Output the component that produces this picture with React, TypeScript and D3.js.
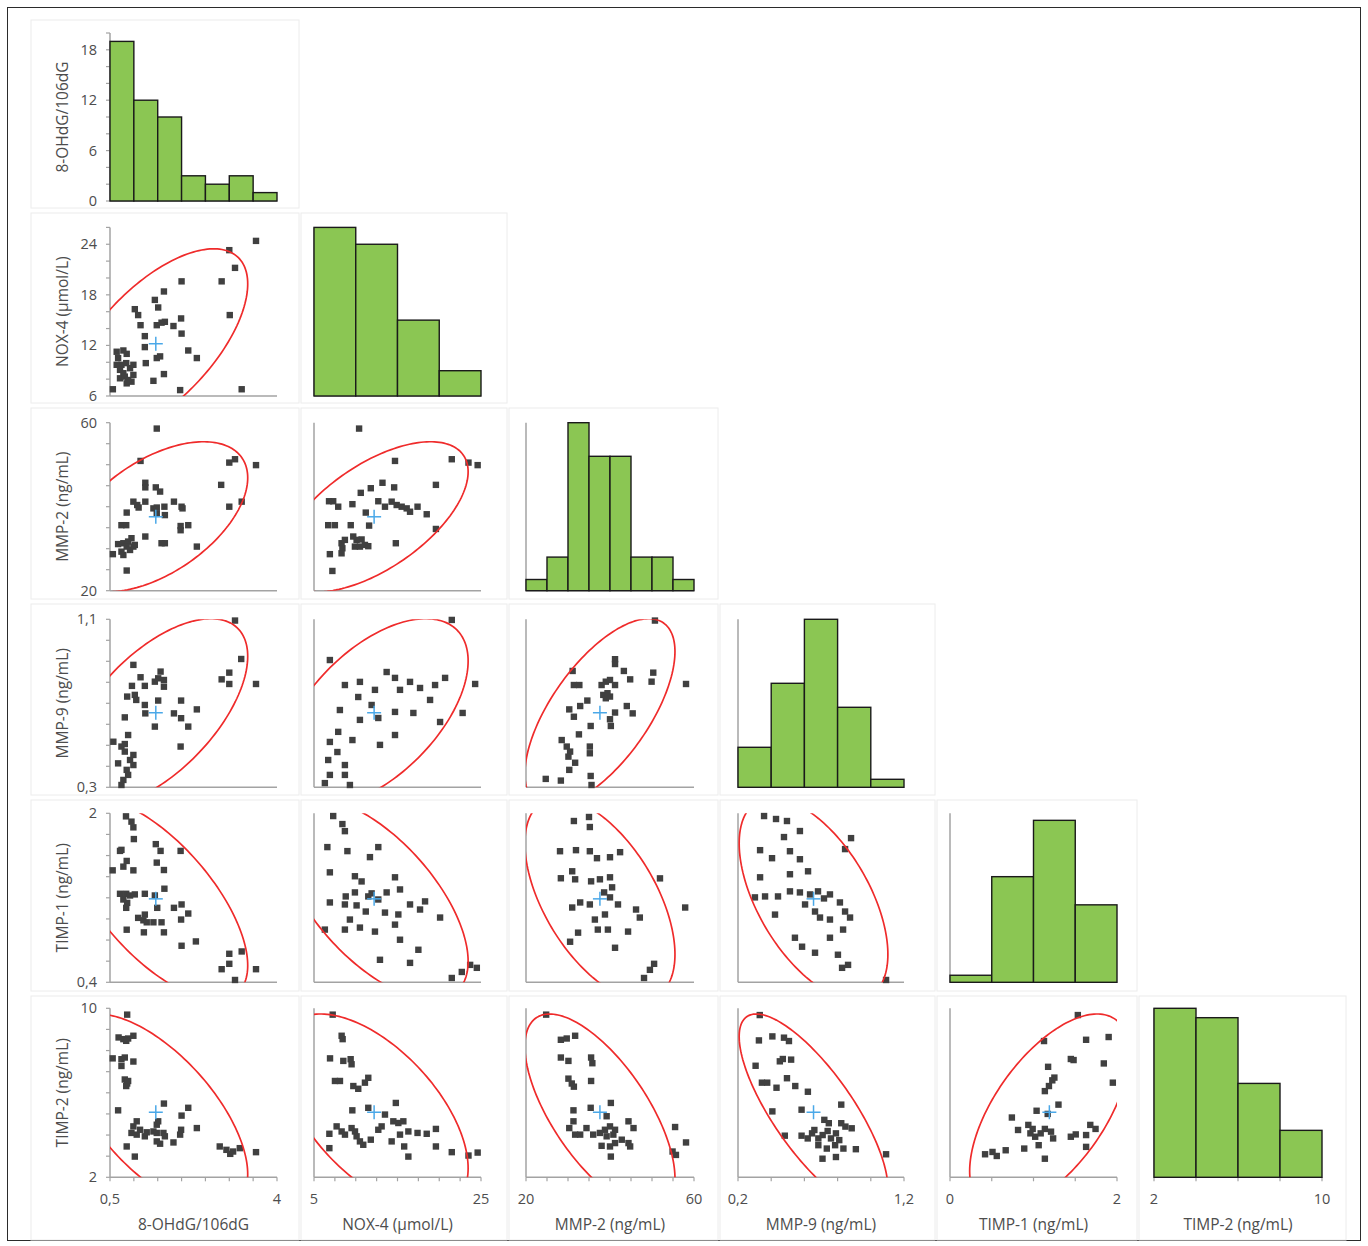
import * as d3 from 'd3';

const W = 1368;
const H = 1246;

// variables (rows top to bottom, columns left to right)
const variables = ['8-OHdG/106dG', 'NOX-4 (µmol/L)', 'MMP-2 (ng/mL)', 'MMP-9 (ng/mL)', 'TIMP-1 (ng/mL)', 'TIMP-2 (ng/mL)'];
const means = [1.46, 12.2, 37.6, 0.655, 1.19, 5.08];
const sds = [0.787, 4.6, 7.3, 0.183, 0.39, 1.9];

const xDomains = [[0.5, 4], [5, 25], [20, 60], [0.2, 1.2], [0, 2], [2, 10]];
const yDomains = [[0, 20], [6, 26], [20, 60], [0.3, 1.1], [0.4, 2], [2, 10]];
const xTickValues = [[0.5, 4], [5, 25], [20, 60], [0.2, 1.2], [0, 2], [2, 10]];
const yTickValues = [[0, 6, 12, 18], [6, 12, 18, 24], [20, 60], [0.3, 1.1], [0.4, 2], [2, 10]];
const xMinorStep = [0.5, 2.5, 5, 0.2, 0.5, 2];
const yMinorStep = [2, 2, 5, 0.1, 0.2, 1];

// histograms on the diagonal
const histEdges = [
  [0.5, 1, 1.5, 2, 2.5, 3, 3.5, 4],
  [5, 10, 15, 20, 25],
  [20, 25, 30, 35, 40, 45, 50, 55, 60],
  [0.2, 0.4, 0.6, 0.8, 1.0, 1.2],
  [0, 0.5, 1, 1.5, 2],
  [2, 4, 6, 8, 10],
];
const histCounts = [
  [19, 12, 10, 3, 2, 3, 1],
  [20, 18, 9, 3],
  [1, 3, 15, 12, 12, 3, 3, 1],
  [5, 13, 21, 10, 1],
  [1, 15, 23, 11],
  [18, 17, 10, 5],
];
const histMax = [20, 20, 15, 21, 24, 18];

// correlation used for the 95% ellipses, [row][col]
const corr: Record<string, number> = {
  '1-0': 0.63,
  '2-0': 0.52, '2-1': 0.6,
  '3-0': 0.6, '3-1': 0.55, '3-2': 0.65,
  '4-0': -0.66, '4-1': -0.62, '4-2': -0.55, '4-3': -0.55,
  '5-0': -0.63, '5-1': -0.57, '5-2': -0.67, '5-3': -0.77, '5-4': 0.6,
};

type P = [number, number];

const ohdgNox: P[] = [[0.56, 6.8], [3.56, 24.4], [3.0, 23.3], [3.12, 21.2], [2.84, 19.6], [3.01, 15.6], [3.26, 6.8], [2.0, 19.6], [1.63, 18.4], [1.44, 17.4], [1.51, 16.5], [1.02, 16.3], [1.09, 15.6], [1.99, 15.2], [1.14, 14.4], [1.48, 14.4], [1.58, 14.7], [1.65, 14.8], [1.83, 14.3], [2.0, 13.4], [1.23, 13.1], [1.23, 11.8], [2.14, 11.4], [2.32, 10.5], [1.48, 10.5], [1.55, 10.7], [1.25, 9.9], [1.63, 8.6], [1.41, 7.8], [1.97, 6.7], [0.64, 11.25], [0.78, 11.4], [0.85, 11.0], [0.67, 10.5], [0.74, 9.7], [0.64, 9.7], [0.84, 9.9], [0.99, 9.7], [0.71, 9.1], [0.92, 9.3], [0.78, 8.7], [0.99, 8.5], [0.71, 8.1], [0.85, 7.5], [0.95, 7.7], [0.81, 8.3], [0.88, 7.9]];

const ohdgMmp2: P[] = [[1.48, 58.6], [1.14, 50.9], [1.24, 45.7], [1.24, 44.6], [1.46, 44.6], [1.55, 43.6], [2.83, 45.2], [3.0, 50.5], [3.12, 51.3], [3.56, 49.9], [3.0, 40.0], [3.26, 41.2], [0.99, 41.2], [1.07, 40.4], [1.24, 41.2], [1.1, 39.8], [1.41, 39.6], [1.48, 39.8], [1.64, 40.0], [1.84, 41.2], [2.0, 40.0], [2.02, 39.6], [0.85, 38.6], [1.65, 38.0], [1.48, 38.4], [0.74, 35.6], [0.84, 35.6], [1.98, 35.4], [2.14, 35.6], [1.98, 34.4], [1.24, 32.9], [1.58, 31.3], [1.65, 31.3], [2.32, 30.5], [0.67, 31.1], [0.78, 31.3], [0.88, 31.7], [0.95, 32.5], [0.85, 30.5], [0.99, 30.5], [0.74, 29.3], [0.92, 29.7], [1.02, 30.9], [0.56, 28.7], [0.78, 28.5], [0.85, 24.8]];

const noxMmp2: P[] = [[10.4, 58.6], [14.7, 50.9], [21.5, 51.3], [23.5, 50.5], [24.6, 49.9], [19.6, 45.2], [13.2, 45.7], [11.8, 44.4], [14.6, 44.6], [10.6, 43.3], [6.8, 41.3], [7.3, 41.3], [7.9, 40.0], [9.6, 40.6], [12.7, 41.3], [13.5, 40.0], [14.3, 41.2], [14.9, 40.4], [15.5, 40.0], [16.1, 39.6], [16.5, 38.8], [17.4, 40.0], [11.2, 38.6], [18.5, 38.2], [19.6, 34.7], [6.7, 35.6], [7.5, 35.6], [9.4, 35.6], [11.6, 35.5], [14.8, 31.3], [6.9, 28.7], [7.2, 24.7], [8.3, 31.3], [8.7, 32.1], [9.7, 32.9], [10.1, 32.1], [10.7, 32.2], [11.1, 30.9], [11.5, 30.6], [8.4, 30.1], [8.3, 28.9], [9.9, 30.5], [10.5, 30.5]];

const ohdgMmp9: P[] = [[3.12, 1.094], [3.25, 0.911], [3.0, 0.846], [2.84, 0.814], [3.0, 0.792], [3.56, 0.792], [0.99, 0.883], [1.14, 0.824], [0.96, 0.783], [1.23, 0.783], [1.44, 0.803], [1.56, 0.851], [1.63, 0.811], [1.63, 0.779], [1.51, 0.819], [0.86, 0.732], [1.02, 0.74], [1.05, 0.716], [1.23, 0.692], [1.24, 0.652], [1.51, 0.713], [1.99, 0.713], [2.32, 0.671], [1.84, 0.652], [1.99, 0.629], [2.14, 0.589], [0.81, 0.633], [1.44, 0.589], [1.98, 0.494], [0.88, 0.549], [0.57, 0.517], [0.74, 0.494], [0.81, 0.47], [0.99, 0.454], [0.92, 0.43], [0.67, 0.414], [0.99, 0.406], [0.85, 0.383], [0.88, 0.359], [0.78, 0.335], [0.74, 0.311], [0.81, 0.506]];

const noxMmp9: P[] = [[21.5, 1.097], [6.9, 0.906], [8.7, 0.787], [10.5, 0.802], [12.3, 0.764], [13.7, 0.849], [14.7, 0.821], [15.3, 0.764], [16.5, 0.802], [17.7, 0.773], [19.5, 0.787], [20.7, 0.821], [18.9, 0.716], [24.3, 0.792], [22.8, 0.654], [20.1, 0.611], [16.9, 0.654], [14.7, 0.659], [11.9, 0.692], [12.7, 0.63], [10.3, 0.73], [8.1, 0.668], [10.5, 0.621], [12.9, 0.502], [14.7, 0.549], [6.9, 0.516], [7.8, 0.468], [6.7, 0.43], [8.7, 0.406], [6.9, 0.359], [6.3, 0.32], [9.3, 0.311], [8.7, 0.359], [7.9, 0.564], [9.6, 0.525]];

const mmp2Mmp9: P[] = [[50.7, 1.094], [41.2, 0.91], [41.2, 0.887], [43.3, 0.854], [44.8, 0.814], [50.3, 0.846], [49.9, 0.803], [58.1, 0.792], [31.1, 0.854], [31.4, 0.787], [32.7, 0.787], [38.0, 0.787], [39.0, 0.803], [40.0, 0.811], [41.2, 0.787], [38.4, 0.74], [39.0, 0.724], [40.0, 0.732], [39.4, 0.748], [34.6, 0.713], [32.9, 0.687], [30.3, 0.671], [31.4, 0.636], [44.0, 0.687], [45.4, 0.652], [41.2, 0.656], [40.0, 0.624], [40.2, 0.592], [35.4, 0.592], [32.6, 0.552], [28.5, 0.525], [29.7, 0.494], [30.5, 0.47], [30.1, 0.446], [31.7, 0.417], [30.3, 0.383], [35.2, 0.494], [35.2, 0.462], [24.7, 0.34], [28.3, 0.332], [35.4, 0.354], [35.6, 0.311]];

const ohdgTimp1: P[] = [[0.835, 1.971], [0.95, 1.921], [0.99, 1.867], [1.0, 1.756], [0.71, 1.644], [0.74, 1.654], [1.46, 1.708], [1.56, 1.644], [1.98, 1.644], [0.85, 1.549], [0.78, 1.495], [0.99, 1.46], [0.556, 1.46], [1.48, 1.533], [1.63, 1.463], [1.64, 1.286], [0.71, 1.238], [0.84, 1.238], [0.92, 1.222], [1.02, 1.232], [0.78, 1.184], [0.86, 1.152], [0.84, 1.105], [1.23, 1.238], [1.44, 1.222], [1.49, 1.105], [1.84, 1.105], [2.0, 1.137], [2.14, 1.051], [1.99, 0.994], [1.23, 1.041], [1.09, 1.01], [1.2, 0.987], [1.27, 0.968], [1.41, 0.968], [1.58, 0.968], [0.85, 0.898], [1.21, 0.873], [1.63, 0.873], [2.0, 0.746], [2.3, 0.787], [3.0, 0.67], [3.26, 0.692], [3.0, 0.575], [2.84, 0.524], [3.56, 0.524], [3.12, 0.422]];

const noxTimp1: P[] = [[7.3, 1.974], [8.4, 1.898], [8.7, 1.831], [6.6, 1.68], [9.0, 1.642], [11.7, 1.585], [12.7, 1.68], [14.7, 1.394], [6.9, 1.441], [9.9, 1.404], [10.7, 1.355], [8.8, 1.213], [9.9, 1.251], [11.5, 1.213], [11.9, 1.242], [12.7, 1.184], [13.7, 1.251], [15.3, 1.279], [6.9, 1.156], [8.7, 1.137], [10.1, 1.128], [11.2, 1.07], [13.5, 1.06], [15.1, 1.042], [16.5, 1.137], [17.7, 1.089], [18.3, 1.166], [20.1, 1.013], [9.3, 0.994], [10.5, 0.918], [14.7, 0.946], [6.3, 0.899], [8.7, 0.899], [12.3, 0.88], [15.3, 0.803], [17.5, 0.708], [23.7, 0.565], [24.5, 0.537], [22.7, 0.498], [21.5, 0.441], [12.9, 0.613], [16.5, 0.584]];

const mmp2Timp1: P[] = [[31.4, 1.927], [35.0, 1.965], [35.2, 1.87], [28.1, 1.641], [31.9, 1.651], [35.2, 1.641], [36.9, 1.575], [40.0, 1.584], [42.4, 1.632], [51.9, 1.384], [31.0, 1.451], [28.3, 1.385], [31.7, 1.375], [35.5, 1.356], [37.6, 1.375], [38.6, 1.251], [40.0, 1.204], [40.5, 1.299], [32.9, 1.156], [31.0, 1.108], [35.2, 1.137], [41.9, 1.137], [46.2, 1.089], [57.9, 1.108], [47.1, 1.013], [38.8, 1.042], [36.4, 0.994], [37.1, 0.899], [39.5, 0.899], [32.4, 0.87], [30.5, 0.784], [41.2, 0.727], [44.3, 0.88], [49.5, 0.518], [50.5, 0.575], [48.1, 0.441], [40.0, 1.394]];

const mmp9Timp1: P[] = [[0.357, 1.974], [0.429, 1.946], [0.495, 1.927], [0.477, 1.775], [0.573, 1.832], [0.333, 1.651], [0.405, 1.575], [0.513, 1.641], [0.573, 1.565], [0.881, 1.765], [0.845, 1.661], [0.333, 1.394], [0.513, 1.423], [0.622, 1.451], [0.302, 1.204], [0.363, 1.213], [0.441, 1.213], [0.513, 1.261], [0.573, 1.251], [0.634, 1.232], [0.682, 1.261], [0.718, 1.194], [0.754, 1.232], [0.814, 1.156], [0.604, 1.137], [0.664, 1.07], [0.694, 1.013], [0.754, 0.994], [0.845, 1.07], [0.875, 1.013], [0.833, 0.899], [0.754, 0.822], [0.543, 0.822], [0.586, 0.737], [0.664, 0.68], [0.802, 0.661], [0.827, 0.537], [0.863, 0.565], [1.092, 0.422], [0.423, 1.041]];

const ohdgTimp2: P[] = [[0.86, 9.7], [0.68, 8.62], [0.78, 8.54], [0.88, 8.57], [0.99, 8.7], [0.84, 8.46], [0.556, 7.63], [0.74, 7.59], [0.81, 7.67], [0.99, 7.48], [0.74, 7.27], [0.81, 6.63], [0.86, 6.44], [0.84, 6.32], [0.88, 6.56], [0.67, 5.17], [1.63, 5.49], [2.14, 5.29], [2.0, 4.92], [1.51, 4.65], [1.48, 4.49], [1.06, 4.65], [0.99, 4.41], [1.13, 4.25], [0.95, 4.1], [1.06, 4.02], [1.23, 3.94], [1.27, 4.13], [1.41, 4.17], [1.48, 4.1], [1.62, 4.1], [1.65, 3.94], [1.99, 4.25], [1.97, 4.02], [2.32, 4.33], [1.48, 3.7], [1.55, 3.59], [1.83, 3.65], [0.85, 3.46], [1.02, 2.98], [2.8, 3.46], [2.94, 3.3], [3.02, 3.11], [3.08, 3.22], [3.22, 3.38], [3.56, 3.19]];

const noxTimp2: P[] = [[7.24, 9.7], [8.31, 8.7], [8.43, 8.54], [6.92, 7.63], [8.51, 7.51], [9.39, 7.59], [9.5, 7.35], [7.51, 6.56], [8.11, 6.56], [9.71, 6.32], [10.3, 6.19], [11.1, 6.48], [11.5, 6.71], [9.59, 5.17], [11.5, 5.29], [13.5, 4.97], [14.8, 5.52], [14.5, 4.65], [15.1, 4.57], [15.7, 4.65], [6.84, 4.06], [7.71, 4.41], [8.31, 4.17], [8.71, 4.02], [9.5, 4.33], [9.91, 4.17], [10.1, 3.94], [10.5, 3.7], [10.9, 3.54], [11.8, 3.78], [12.7, 4.25], [13.1, 4.41], [14.3, 3.7], [15.3, 4.02], [16.3, 4.17], [17.4, 4.1], [18.5, 4.06], [19.6, 4.29], [6.84, 3.38], [15.8, 3.46], [16.3, 2.98], [19.6, 3.46], [21.5, 3.19], [23.5, 3.03], [24.6, 3.17]];

const mmp2Timp2: P[] = [[24.8, 9.7], [28.3, 8.51], [29.7, 8.57], [31.7, 8.7], [28.3, 7.67], [30.1, 7.51], [35.5, 7.67], [35.8, 7.4], [30.1, 6.67], [30.9, 6.44], [31.4, 6.29], [35.5, 6.56], [31.3, 5.17], [35.4, 5.29], [40.2, 5.52], [31.3, 4.65], [39.2, 4.89], [44.4, 4.65], [45.6, 4.33], [30.3, 4.33], [31.7, 4.02], [32.9, 4.02], [34.4, 4.33], [36.0, 4.02], [37.6, 4.1], [38.8, 4.25], [40.0, 4.41], [41.2, 4.25], [39.2, 3.94], [40.8, 4.02], [38.0, 3.49], [40.0, 3.46], [41.2, 3.62], [42.8, 3.78], [44.4, 3.62], [44.8, 3.46], [40.2, 2.98], [55.5, 4.38], [54.9, 3.22], [55.7, 3.06], [58.1, 3.65]];

const mmp9Timp2: P[] = [[0.331, 9.68], [0.326, 8.48], [0.407, 8.67], [0.477, 8.61], [0.507, 8.45], [0.452, 7.49], [0.47, 7.6], [0.52, 7.57], [0.306, 7.28], [0.344, 6.48], [0.376, 6.48], [0.432, 6.24], [0.495, 6.69], [0.545, 6.32], [0.621, 6.05], [0.407, 5.12], [0.583, 5.2], [0.822, 5.44], [0.72, 4.72], [0.747, 4.56], [0.822, 4.56], [0.847, 4.4], [0.885, 4.32], [0.482, 3.97], [0.583, 3.97], [0.62, 3.84], [0.646, 4.08], [0.66, 4.24], [0.684, 3.84], [0.71, 4.0], [0.74, 4.19], [0.76, 3.84], [0.79, 4.08], [0.81, 3.76], [0.684, 3.52], [0.735, 3.36], [0.785, 3.52], [0.835, 3.36], [0.91, 3.33], [0.709, 2.88], [0.79, 2.96], [1.092, 3.09]];

const timp1Timp2: P[] = [[1.531, 9.68], [1.126, 8.45], [1.63, 8.51], [1.9, 8.64], [1.447, 7.6], [1.48, 7.55], [1.842, 7.39], [1.175, 7.23], [1.95, 6.48], [1.136, 6.08], [1.185, 6.32], [1.225, 6.59], [1.25, 6.72], [1.037, 5.15], [1.299, 5.44], [1.17, 5.0], [0.741, 4.83], [0.815, 4.24], [0.938, 4.48], [0.99, 4.29], [0.963, 4.08], [1.02, 3.92], [1.086, 4.08], [1.136, 4.29], [1.21, 4.16], [1.235, 3.84], [1.447, 3.92], [1.506, 4.03], [1.63, 4.0], [1.68, 4.48], [1.743, 4.29], [0.889, 3.36], [1.062, 3.52], [1.63, 3.44], [0.42, 3.09], [0.509, 3.2], [0.56, 3.01], [0.667, 3.28], [1.136, 2.88]];

const panelPoints: Record<string, P[]> = {
  '1-0': ohdgNox,
  '2-0': ohdgMmp2, '2-1': noxMmp2,
  '3-0': ohdgMmp9, '3-1': noxMmp9, '3-2': mmp2Mmp9,
  '4-0': ohdgTimp1, '4-1': noxTimp1, '4-2': mmp2Timp1, '4-3': mmp9Timp1,
  '5-0': ohdgTimp2, '5-1': noxTimp2, '5-2': mmp2Timp2, '5-3': mmp9Timp2, '5-4': timp1Timp2,
};

// layout
const colCells = [[31, 299], [301, 507], [509, 718], [720, 935], [937, 1137], [1139, 1346]];
const colPlots = [[110, 277], [314, 481], [526, 694], [738, 904], [950, 1117], [1154, 1322]];
const rowCells = [[20, 208], [213, 403], [408, 599], [604, 795], [800, 991], [996, 1240]];
const rowPlots = [[33, 201], [227.4, 396], [422.7, 590.7], [619.3, 787.3], [813.3, 982.3], [1008.3, 1177.3]];

const AXIS = '#a3a3a3';
const TEXT = '#4d4d4d';
const GREEN = '#8bc653';
const RED = '#ef2b2b';
const BLUE = '#4aa8e8';
const DOT = '#404040';
const FONT = "'Open Sans', 'Noto Sans', sans-serif";

const fmt = (v: number) => String(v).replace('.', ',');
const steps = (d: number[], step: number) =>
  d3.range(d[0], d[1] + step / 2, step).map((v) => Math.round(v * 1000) / 1000);

function ellipse(mx: number, my: number, sx: number, sy: number, r: number): P[] {
  const k = Math.sqrt(5.991);
  const s = Math.sqrt(1 - r * r);
  return d3.range(0, 361, 2).map((deg) => {
    const t = (deg * Math.PI) / 180;
    return [mx + sx * k * Math.cos(t), my + sy * k * (r * Math.cos(t) + s * Math.sin(t))];
  });
}

function Cell({ r, c }: { r: number; c: number }) {
  const x = d3.scaleLinear().domain(xDomains[c]).range(colPlots[c]);
  const isHist = r === c;
  const y = d3
    .scaleLinear()
    .domain(isHist ? [0, histMax[r]] : yDomains[r])
    .range([rowPlots[r][1], rowPlots[r][0]]);
  const [px0, px1] = colPlots[c];
  const [py0, py1] = rowPlots[r];
  const key = `${r}-${c}`;
  const clipId = `clip-${key}`;

  let body = null;
  if (isHist) {
    const edges = histEdges[r];
    body = (
      <g>
        {histCounts[r].map((n, i) => (
          <rect
            key={i}
            x={x(edges[i])}
            y={y(n)}
            width={x(edges[i + 1]) - x(edges[i])}
            height={y(0) - y(n)}
            fill={GREEN}
            stroke="#1a1a1a"
            strokeWidth={1.4}
          />
        ))}
      </g>
    );
  } else {
    const pts = panelPoints[key];
    const ell = ellipse(means[c], means[r], sds[c], sds[r], corr[key]);
    const line = d3
      .line<P>()
      .x((d) => x(d[0]))
      .y((d) => y(d[1]))
      .curve(d3.curveLinearClosed);
    const cx = x(means[c]);
    const cy = y(means[r]);
    body = (
      <g>
        {pts.map((p, i) => (
          <rect key={i} x={x(p[0]) - 3.2} y={y(p[1]) - 3.2} width={6.4} height={6.4} fill={DOT} />
        ))}
        <path d={line(ell) || ''} fill="none" stroke={RED} strokeWidth={1.7} clipPath={`url(#${clipId})`} />
        <line x1={cx - 7} x2={cx + 7} y1={cy} y2={cy} stroke={BLUE} strokeWidth={1.5} />
        <line x1={cx} x2={cx} y1={cy - 7} y2={cy + 7} stroke={BLUE} strokeWidth={1.5} />
      </g>
    );
  }

  return (
    <g>
      <defs>
        <clipPath id={clipId}>
          <rect x={px0} y={py0} width={px1 - px0} height={py1 - py0} />
        </clipPath>
      </defs>
      <rect
        x={colCells[c][0]}
        y={rowCells[r][0]}
        width={colCells[c][1] - colCells[c][0]}
        height={rowCells[r][1] - rowCells[r][0]}
        fill="#fff"
        stroke="#ececec"
        strokeWidth={1}
      />
      {/* axes */}
      <line x1={px0} x2={px0} y1={py0} y2={py1} stroke={AXIS} strokeWidth={1.5} />
      <line x1={px0} x2={px1} y1={py1} y2={py1} stroke={AXIS} strokeWidth={1.5} />
      {c === 0 && (
        <g>
          {steps(yDomains[r], yMinorStep[r]).map((v) => (
            <line key={v} x1={px0 - 4} x2={px0} y1={y(v)} y2={y(v)} stroke={AXIS} strokeWidth={1.2} />
          ))}
          {yTickValues[r].map((v) => (
            <text key={v} x={97} y={y(v)} dy="0.35em" textAnchor="end" fontSize={14.5} fill={TEXT}>
              {fmt(v)}
            </text>
          ))}
          <text
            transform={`translate(63, ${(py0 + py1) / 2}) rotate(-90)`}
            textAnchor="middle"
            dy="0.35em"
            fontSize={15.5}
            fill={TEXT}
          >
            {variables[r]}
          </text>
        </g>
      )}
      {r === 5 && (
        <g>
          {steps(xDomains[c], xMinorStep[c]).map((v) => (
            <line key={v} x1={x(v)} x2={x(v)} y1={py1} y2={py1 + 4} stroke={AXIS} strokeWidth={1.2} />
          ))}
          {xTickValues[c].map((v) => (
            <text key={v} x={x(v)} y={1199} dy="0.35em" textAnchor="middle" fontSize={14.5} fill={TEXT}>
              {fmt(v)}
            </text>
          ))}
          <text x={(px0 + px1) / 2} y={1225} dy="0.35em" textAnchor="middle" fontSize={15.5} fill={TEXT}>
            {variables[c]}
          </text>
        </g>
      )}
      {body}
    </g>
  );
}

export default function App() {
  const cells: { r: number; c: number }[] = [];
  variables.forEach((_, r) => {
    variables.forEach((__, c) => {
      if (c <= r) cells.push({ r, c });
    });
  });
  return (
    <div style={{ position: 'absolute', left: 0, top: 0 }}>
      <svg width={W} height={H} style={{ display: 'block', background: '#fff' }} fontFamily={FONT}>
        <rect x={7.5} y={7.5} width={1353} height={1233} fill="none" stroke="#2b2b2b" strokeWidth={1} />
        {cells.map(({ r, c }) => (
          <Cell key={`${r}-${c}`} r={r} c={c} />
        ))}
      </svg>
    </div>
  );
}
